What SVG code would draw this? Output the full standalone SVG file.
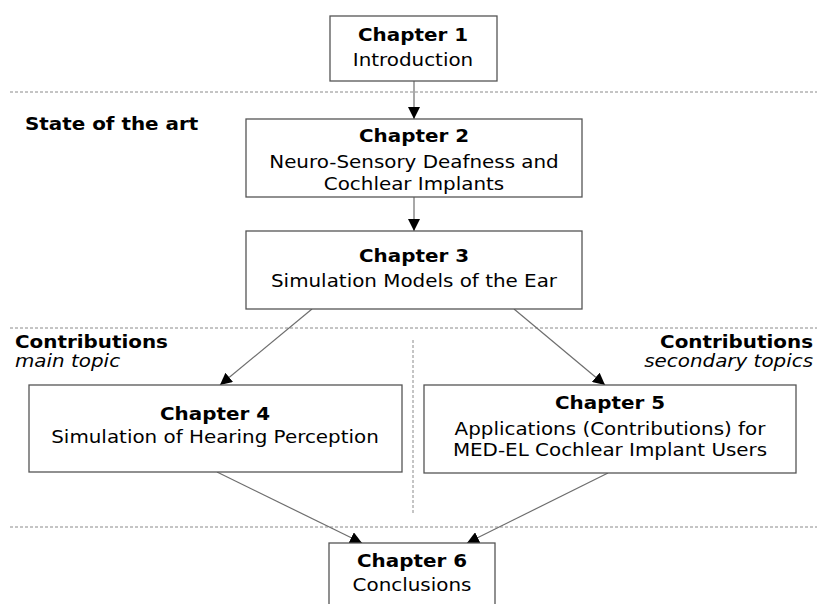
<svg xmlns="http://www.w3.org/2000/svg" width="817" height="604" viewBox="0 0 817 604">
<style>
text{font-family:"DejaVu Sans",Verdana,sans-serif;font-size:17px;fill:#000}
.b{font-weight:bold}
.i{font-style:italic}
.m{text-anchor:middle}
.e{text-anchor:end}
.box{fill:#fff;stroke:#555;stroke-width:1.3}
.sep{stroke:#8a8a8a;stroke-width:1;stroke-dasharray:3 2;fill:none}
.con{stroke:#6e6e6e;stroke-width:1.2;fill:none;marker-end:url(#ah)}
</style>
<defs>
<marker id="ah" viewBox="0 0 10 10" refX="10" refY="5" markerWidth="12" markerHeight="12" markerUnits="userSpaceOnUse" orient="auto">
<path d="M0,0 L10,5 L0,10 z" fill="#000"/>
</marker>
</defs>
<rect width="817" height="604" fill="#fff"/>
<g id="separators">
<line class="sep" x1="10" y1="92" x2="817" y2="92"/>
<line class="sep" x1="10" y1="328" x2="817" y2="328"/>
<line class="sep" x1="10" y1="527" x2="817" y2="527"/>
<line class="sep" x1="413" y1="340" x2="413" y2="515"/>
</g>
<g id="labels">
<text class="b" transform="translate(25,130) scale(1.17,1)">State of the art</text>
<text class="b" transform="translate(15,348) scale(1.17,1)">Contributions</text>
<text class="i" transform="translate(15,367) scale(1.17,1)">main topic</text>
<text class="b e" transform="translate(813,348) scale(1.17,1)">Contributions</text>
<text class="i e" transform="translate(813,367) scale(1.17,1)">secondary topics</text>
</g>
<g id="connectors">
<line class="con" x1="414" y1="81" x2="414" y2="119"/>
<line class="con" x1="414" y1="197" x2="414" y2="231"/>
<line class="con" x1="312" y1="309" x2="220" y2="385"/>
<line class="con" x1="514" y1="309" x2="605" y2="385"/>
<line class="con" x1="217" y1="472" x2="362" y2="543"/>
<line class="con" x1="608" y1="473" x2="467" y2="543"/>
</g>
<g id="ch1">
<rect class="box" x="330" y="16" width="167" height="65"/>
<text class="b m" transform="translate(413,41) scale(1.17,1)">Chapter 1</text>
<text class="m" transform="translate(413,66) scale(1.17,1)">Introduction</text>
</g>
<g id="ch2">
<rect class="box" x="246" y="119" width="336" height="78"/>
<text class="b m" transform="translate(414,142) scale(1.17,1)">Chapter 2</text>
<text class="m" transform="translate(414,168) scale(1.17,1)">Neuro-Sensory Deafness and</text>
<text class="m" transform="translate(414,190) scale(1.17,1)">Cochlear Implants</text>
</g>
<g id="ch3">
<rect class="box" x="246" y="231" width="336" height="78"/>
<text class="b m" transform="translate(414,262) scale(1.17,1)">Chapter 3</text>
<text class="m" transform="translate(414,287) scale(1.17,1)">Simulation Models of the Ear</text>
</g>
<g id="ch4">
<rect class="box" x="29" y="385" width="373" height="87"/>
<text class="b m" transform="translate(215,420) scale(1.17,1)">Chapter 4</text>
<text class="m" transform="translate(215,443) scale(1.17,1)">Simulation of Hearing Perception</text>
</g>
<g id="ch5">
<rect class="box" x="424" y="385" width="372" height="88"/>
<text class="b m" transform="translate(610,409) scale(1.17,1)">Chapter 5</text>
<text class="m" transform="translate(610,435) scale(1.17,1)">Applications (Contributions) for</text>
<text class="m" transform="translate(610,456) scale(1.17,1)">MED-EL Cochlear Implant Users</text>
</g>
<g id="ch6">
<rect class="box" x="329" y="543" width="166" height="80"/>
<text class="b m" transform="translate(412,567) scale(1.17,1)">Chapter 6</text>
<text class="m" transform="translate(412,591) scale(1.17,1)">Conclusions</text>
</g>
</svg>
